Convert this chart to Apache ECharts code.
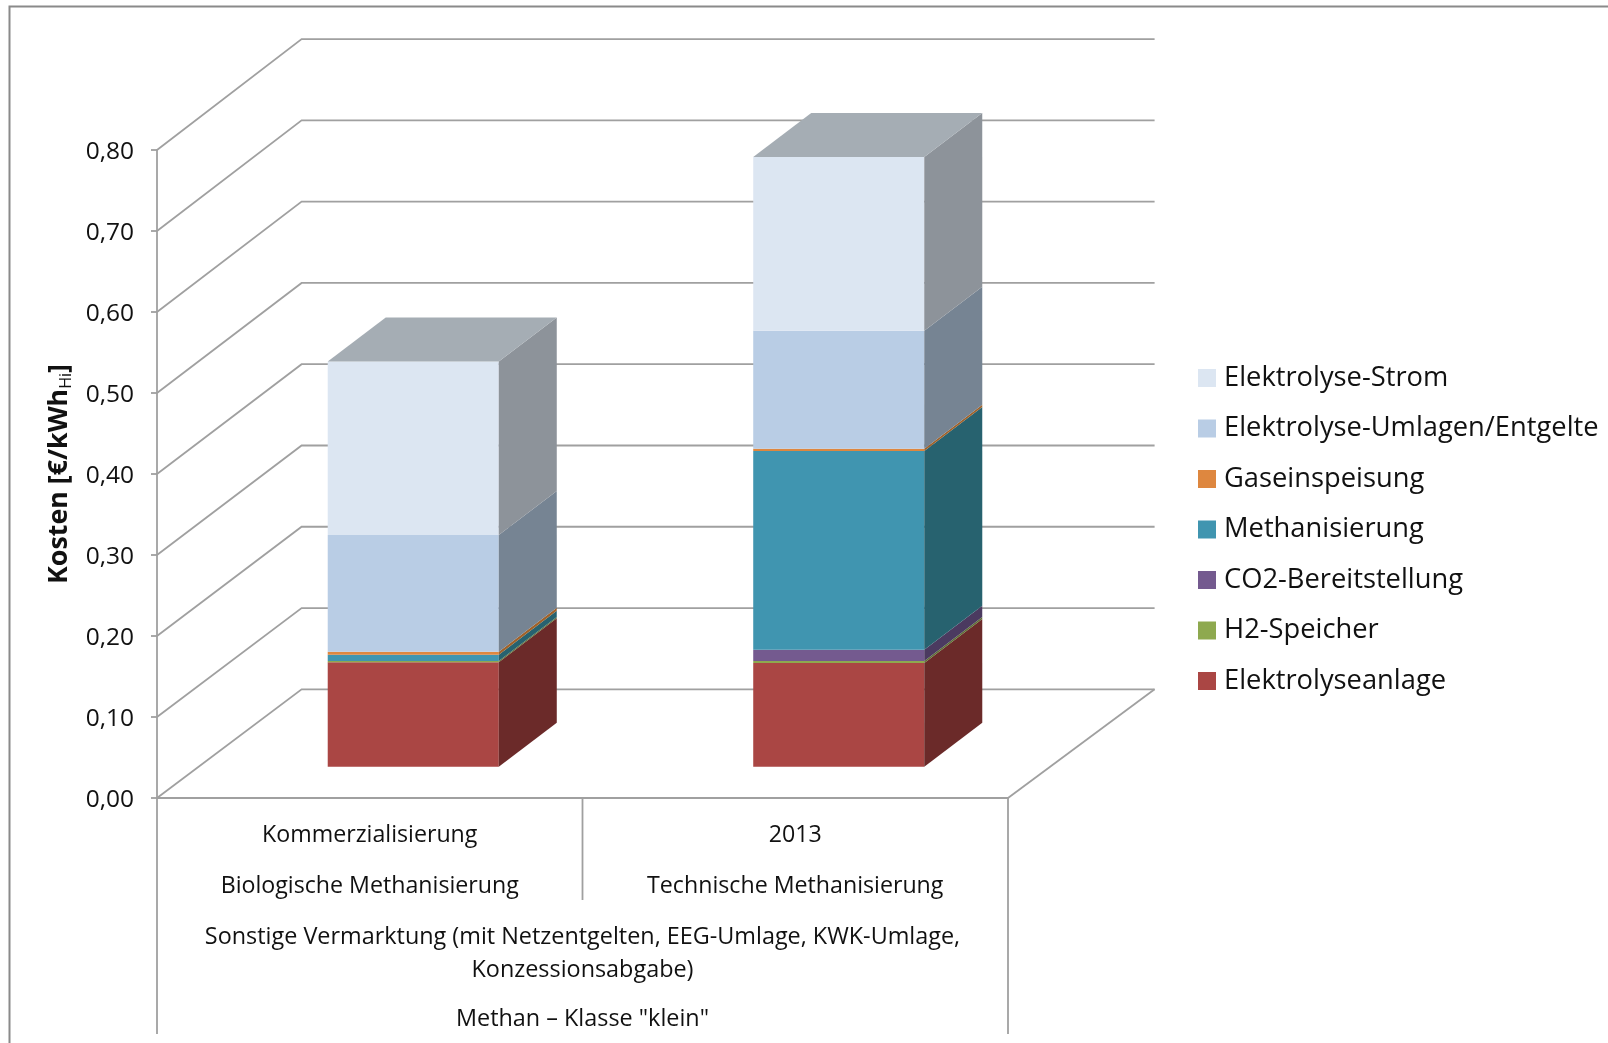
<!DOCTYPE html>
<html><head><meta charset="utf-8">
<style>html,body{margin:0;padding:0;background:#fff}#c{width:1608px;height:1043px}</style>
<script src="https://cdn.jsdelivr.net/npm/echarts@6/dist/echarts.min.js"></script>
</head><body><div id="c"></div>
<script>
const categories = ['Kommerzialisierung', '2013'];
const groupLabels = ['Biologische Methanisierung', 'Technische Methanisierung'];
const spanLabels = ['Sonstige Vermarktung (mit Netzentgelten, EEG-Umlage, KWK-Umlage,', 'Konzessionsabgabe)', 'Methan – Klasse "klein"'];
const yTicks = [0, 0.1, 0.2, 0.3, 0.4, 0.5, 0.6, 0.7, 0.8];

const elektrolyseanlage = [0.1288, 0.1280];
const h2Speicher = [0.0016, 0.0025];
const co2Bereitstellung = [0, 0.0140];
const methanisierung = [0.0079, 0.2452];
const gaseinspeisung = [0.0037, 0.0028];
const elektrolyseUmlagen = [0.1440, 0.1456];
const elektrolyseStrom = [0.2143, 0.2145];

const seriesNames = ['Elektrolyseanlage', 'H2-Speicher', 'CO2-Bereitstellung', 'Methanisierung', 'Gaseinspeisung', 'Elektrolyse-Umlagen/Entgelte', 'Elektrolyse-Strom'];
const seriesValues = [elektrolyseanlage, h2Speicher, co2Bereitstellung, methanisierung, gaseinspeisung, elektrolyseUmlagen, elektrolyseStrom];
const frontColors = ['#AA4644', '#8EA94F', '#745A8F', '#4095B0', '#DE873F', '#B9CDE5', '#DCE6F2'];
const sideColors = ['#6B2A29', '#5F7135', '#4B3A60', '#27626F', '#A0622A', '#768493', '#8D939A'];
const topColor = '#A5ADB4';

const GRID_L = 157, GRID_T = 150, GRID_W = 851, GRID_H = 648;
const WALL_DX = 144.6, WALL_DY = -108.7;
const WALL_RIGHT_EXTRA = 2;     // the back wall is slightly wider than the front edge
const WALL_STRETCH = 2.2 / 0.8; // and slightly taller: extra pixels per unit of value
const BAR_FRONT_DX = 43.5, BAR_FRONT_DY = -31.3;
const BAR_DX = 58, BAR_DY = -44;
const BAR_FRAC = 0.402;
const FONT = '"Open Sans","Noto Sans",sans-serif';
const LINE = '#A0A0A0';
const LW = 1.8;

function cumulative(si, ci) {
  let s = 0;
  for (let i = 0; i < si; i++) s += seriesValues[i][ci];
  return s;
}
function poly(points, fill) {
  return { type: 'polygon', shape: { points }, style: { fill } };
}
const barSeries = seriesNames.map((name, si) => ({
  name, type: 'custom', z: 5,
  itemStyle: { color: frontColors[si] },
  data: categories.map((c, ci) => [ci, seriesValues[si][ci]]),
  encode: { x: 0, y: 1 },
  renderItem(params, api) {
    const ci = api.value(0), v = api.value(1);
    if (!v) return { type: 'group', children: [] };
    const base = cumulative(si, ci);
    const p0 = api.coord([ci, base]), p1 = api.coord([ci, base + v]);
    const w = api.size([1, 0])[0] * BAR_FRAC;
    const xl = p0[0] - w / 2 + BAR_FRONT_DX, xr = xl + w;
    const yb = p0[1] + BAR_FRONT_DY, yt = p1[1] + BAR_FRONT_DY;
    const children = [
      poly([[xl, yb], [xr, yb], [xr, yt], [xl, yt]], frontColors[si]),
      poly([[xr, yb], [xr + BAR_DX, yb + BAR_DY], [xr + BAR_DX, yt + BAR_DY], [xr, yt]], sideColors[si])
    ];
    if (si === seriesNames.length - 1) {
      children.push(poly([[xl, yt], [xr, yt], [xr + BAR_DX, yt + BAR_DY], [xl + BAR_DX, yt + BAR_DY]], topColor));
    }
    return { type: 'group', children };
  }
}));

// Category band edges: centre of a category plus or minus half a band.
function bandEdge(api, ci, side, value) {
  const p = api.coord([ci, value]);
  return [p[0] + side * api.size([1, 0])[0] / 2, p[1]];
}
const wallSeries = {
  type: 'custom', z: 1, silent: true,
  data: yTicks.map(t => [0, t]),
  encode: { x: 0, y: 1 },
  renderItem(params, api) {
    const t = api.value(1);
    const a = bandEdge(api, 0, -1, t), b = bandEdge(api, 1, 1, t);
    const by = a[1] + WALL_DY - t * WALL_STRETCH;
    return {
      type: 'polyline',
      shape: { points: [a, [a[0] + WALL_DX, by], [b[0] + WALL_DX + WALL_RIGHT_EXTRA, by]] },
      style: { stroke: LINE, lineWidth: LW, fill: null }
    };
  }
};
const floorSeries = {
  type: 'custom', z: 1, silent: true,
  data: [[1, 0]],
  encode: { x: 0, y: 1 },
  renderItem(params, api) {
    const b = bandEdge(api, 1, 1, 0);
    return {
      type: 'polyline',
      shape: { points: [b, [b[0] + WALL_DX + WALL_RIGHT_EXTRA, b[1] + WALL_DY]] },
      style: { stroke: LINE, lineWidth: LW, fill: null }
    };
  }
};
const levelSeries = {
  type: 'custom', z: 2, silent: true,
  data: [[0, -1, 236], [0, 1, 102], [1, 1, 236]],
  encode: { x: 0 },
  renderItem(params, api) {
    const p = bandEdge(api, api.value(0), api.value(1), 0);
    return {
      type: 'line',
      shape: { x1: p[0], y1: p[1], x2: p[0], y2: p[1] + api.value(2) },
      style: { stroke: LINE, lineWidth: LW }
    };
  }
};
const levelTextSeries = {
  type: 'custom', z: 3, silent: true,
  data: [[0, 139, 0], [0, 172, 1], [0, 221, 2]],
  encode: { x: 0 },
  renderItem(params, api) {
    const p = bandEdge(api, 0, 1, 0);
    return {
      type: 'text',
      x: p[0], y: p[1] + api.value(1),
      style: { text: spanLabels[api.value(2)], font: '23.4px ' + FONT, fill: '#111', align: 'center', verticalAlign: 'middle' }
    };
  }
};

const chart = echarts.init(document.getElementById('c'), null, { renderer: 'canvas' });
chart.setOption({
  animation: false,
  backgroundColor: '#fff',
  graphic: [{
    type: 'rect', z: -10, silent: true,
    shape: { x: 9.5, y: 6.5, width: 1700, height: 1100 },
    style: { fill: null, stroke: '#8A8A8A', lineWidth: 2 }
  }],
  grid: { left: GRID_L, top: GRID_T, width: GRID_W, height: GRID_H, containLabel: false },
  legend: {
    orient: 'vertical', left: 1198, top: 363, padding: 0,
    data: seriesNames.slice().reverse(),
    itemWidth: 18, itemHeight: 18, itemGap: 20.5, icon: 'rect',
    textStyle: { fontFamily: FONT, fontSize: 27.3, color: '#111', lineHeight: 30, padding: [0, 0, 0, 3] },
    itemStyle: { borderWidth: 0 },
    selectedMode: false
  },
  xAxis: {
    type: 'category', data: categories,
    axisLine: { lineStyle: { color: LINE, width: LW } },
    axisTick: { show: false },
    axisLabel: {
      interval: 0, margin: 12, color: '#111', fontFamily: FONT, fontSize: 23.2, lineHeight: 51,
      formatter: (v, i) => v + '\n' + groupLabels[i]
    }
  },
  yAxis: {
    type: 'value', min: 0, max: 0.8, interval: 0.1,
    name: '{b|Kosten [€/kWh}{s|Hi}{b|]}',
    nameLocation: 'middle', nameRotate: 90, nameGap: 80,
    nameTextStyle: { rich: {
      b: { fontFamily: FONT, fontWeight: 'bold', fontSize: 26.8, color: '#111' },
      s: { fontFamily: FONT, fontSize: 16, color: '#111', verticalAlign: 'bottom', padding: [14, 0, 0, 0] }
    } },
    splitLine: { show: false },
    axisLine: { show: true, lineStyle: { color: LINE, width: LW } },
    axisTick: { show: true, length: 6, lineStyle: { color: LINE, width: LW } },
    axisLabel: { margin: 23, color: '#111', fontFamily: FONT, fontSize: 24.5,
      rich: { t: { fontFamily: FONT, fontSize: 24.5, color: '#111', padding: [5, 0, 0, 0] } },
      formatter: v => '{t|' + v.toFixed(2).replace('.', ',') + '}' }
  },
  series: [wallSeries, floorSeries, levelSeries, levelTextSeries].concat(barSeries)
});
</script></body></html>
